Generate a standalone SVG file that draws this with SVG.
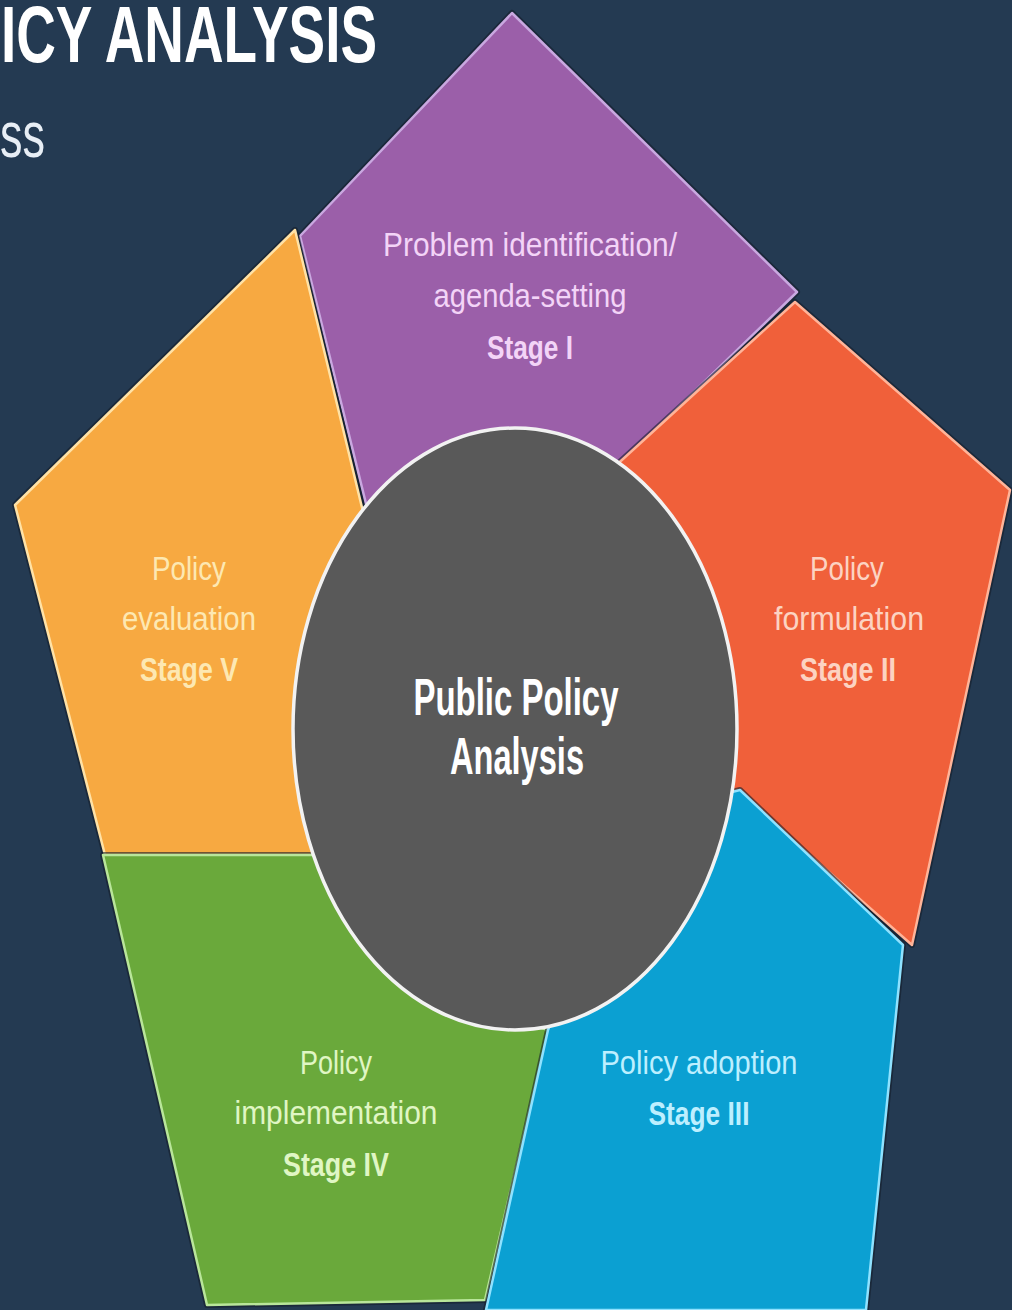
<svg xmlns="http://www.w3.org/2000/svg" width="1012" height="1310" viewBox="0 0 1012 1310">
  <style>
    .t { font-family: "Liberation Sans", Arial, sans-serif; text-anchor: middle; font-size: 34px; }
    .c { font-family: "Liberation Sans", Arial, sans-serif; text-anchor: middle; font-size: 52px; font-weight: bold; fill: #ffffff; }
    .b { font-weight: bold; }
    .seg { stroke-width: 2.5; stroke-linejoin: round; }
    .shadow { fill: none; stroke: #141c2a; stroke-width: 6; stroke-linejoin: round; opacity: 0.6; }
  </style>
  <rect width="1012" height="1310" fill="#243a52"/>

  <g id="title">
    <text x="1" y="62" font-family="'Liberation Sans', Arial, sans-serif" font-weight="bold" font-size="80" fill="#ffffff" textLength="376" lengthAdjust="spacingAndGlyphs">ICY ANALYSIS</text>
    <text x="0" y="157" font-family="'Liberation Sans', Arial, sans-serif" font-size="64" fill="#e8eef5" textLength="45" lengthAdjust="spacingAndGlyphs">ss</text>
  </g>

  <g id="stage1">
    <polygon class="shadow" points="512,13 797,292 600,483 450,520 370,520 300,236"/>
    <polygon class="seg" points="512,13 797,292 600,483 450,520 370,520 300,236" fill="#9b5fa9" stroke="#c9a8e0"/>
    <text class="t" x="530" y="256" fill="#f3d4f7" textLength="294" lengthAdjust="spacingAndGlyphs">Problem identification/</text>
    <text class="t" x="530" y="307" fill="#f3d4f7" textLength="193" lengthAdjust="spacingAndGlyphs">agenda-setting</text>
    <text class="t b" x="530" y="359" fill="#f3d4f7" textLength="86" lengthAdjust="spacingAndGlyphs">Stage I</text>
  </g>

  <g id="stage2">
    <polygon class="shadow" points="795,302 1010,490 912,945 738,792 700,780 600,480"/>
    <polygon class="seg" points="795,302 1010,490 912,945 738,792 700,780 600,480" fill="#f0603a" stroke="#ffb499"/>
    <text class="t" x="847" y="580" fill="#fcd3c2" textLength="74" lengthAdjust="spacingAndGlyphs">Policy</text>
    <text class="t" x="849" y="630" fill="#fcd3c2" textLength="150" lengthAdjust="spacingAndGlyphs">formulation</text>
    <text class="t b" x="848" y="681" fill="#fcd3c2" textLength="96" lengthAdjust="spacingAndGlyphs">Stage II</text>
  </g>

  <g id="stage5">
    <polygon class="shadow" points="295,230 15,505 105,855 320,855 400,650 365,520"/>
    <polygon class="seg" points="295,230 15,505 105,855 320,855 400,650 365,520" fill="#f7a941" stroke="#ffe2a6"/>
    <text class="t" x="189" y="580" fill="#fde8b2" textLength="74" lengthAdjust="spacingAndGlyphs">Policy</text>
    <text class="t" x="189" y="630" fill="#fde8b2" textLength="134" lengthAdjust="spacingAndGlyphs">evaluation</text>
    <text class="t b" x="189" y="681" fill="#fde8b2" textLength="98" lengthAdjust="spacingAndGlyphs">Stage V</text>
  </g>

  <g id="stage4">
    <polygon class="shadow" points="103,855 320,855 450,1000 548,1030 485,1300 207,1305"/>
    <polygon class="seg" points="103,855 320,855 450,1000 548,1030 485,1300 207,1305" fill="#6aa93b" stroke="#b9e69a"/>
    <text class="t" x="336" y="1074" fill="#e0f6c4" textLength="72" lengthAdjust="spacingAndGlyphs">Policy</text>
    <text class="t" x="336" y="1124" fill="#e0f6c4" textLength="203" lengthAdjust="spacingAndGlyphs">implementation</text>
    <text class="t b" x="336" y="1176" fill="#e0f6c4" textLength="106" lengthAdjust="spacingAndGlyphs">Stage IV</text>
  </g>

  <g id="stage3">
    <polygon class="shadow" points="740,790 903,945 866,1310 486,1310 548,1030 560,1000 700,800"/>
    <polygon class="seg" points="740,790 903,945 866,1310 486,1310 548,1030 560,1000 700,800" fill="#0ba0d2" stroke="#8fe2ff"/>
    <text class="t" x="699" y="1074" fill="#bdefff" textLength="197" lengthAdjust="spacingAndGlyphs">Policy adoption</text>
    <text class="t b" x="699" y="1125" fill="#bdefff" textLength="101" lengthAdjust="spacingAndGlyphs">Stage III</text>
  </g>

  <g id="center">
    <ellipse cx="515" cy="729" rx="222" ry="301" fill="#595959" stroke="#f2f2f2" stroke-width="3.5"/>
    <text class="c" x="516" y="715" textLength="205" lengthAdjust="spacingAndGlyphs">Public Policy</text>
    <text class="c" x="517" y="774" textLength="134" lengthAdjust="spacingAndGlyphs">Analysis</text>
  </g>
</svg>
